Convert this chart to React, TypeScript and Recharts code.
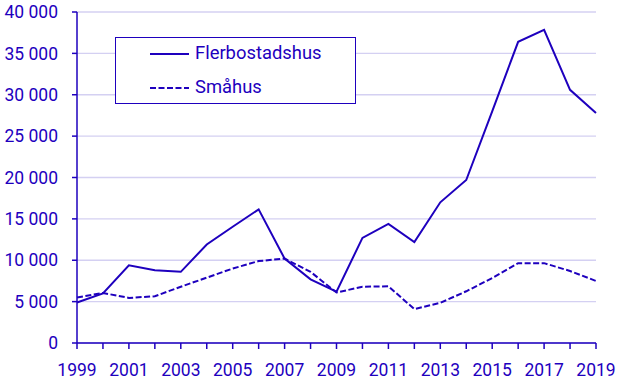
import React from 'react';
import { LineChart, Line, XAxis, YAxis, CartesianGrid } from 'recharts';

const years = [1999, 2000, 2001, 2002, 2003, 2004, 2005, 2006, 2007, 2008, 2009, 2010, 2011, 2012, 2013, 2014, 2015, 2016, 2017, 2018, 2019];
const flerbostadshus = [4900, 6000, 9400, 8800, 8600, 11900, 14050, 16150, 10200, 7700, 6200, 12700, 14400, 12200, 17000, 19700, 28000, 36400, 37850, 30600, 27800];
const smahus = [5500, 6050, 5450, 5650, 6800, 7900, 9000, 9900, 10200, 8600, 6100, 6800, 6850, 4100, 4850, 6250, 7850, 9650, 9650, 8700, 7500];
const yTicks = [0, 5000, 10000, 15000, 20000, 25000, 30000, 35000, 40000];
const seriesNames = ['Flerbostadshus', 'Småhus'];

const data = years.map((y, i) => ({ year: y, fler: flerbostadshus[i], sma: smahus[i] }));

const BLUE = '#1e00be';
const FONT = 'Roboto, sans-serif';
const DASH = '6 2.5';

const fmt = (v: number) => {
  if (v === 0) return '0';
  const s = String(v);
  return s.slice(0, s.length - 3) + '\u00a0' + s.slice(s.length - 3);
};

const LegendBox = () => (
  <div style={{ position: 'absolute', left: 115, top: 37, width: 241, height: 67, border: `1.3px solid ${BLUE}`, boxSizing: 'border-box', background: 'white' }}>
    <svg width={239} height={65} style={{ position: 'absolute', left: 0, top: 0 }}>
      <line x1={34} x2={73} y1={16} y2={16} stroke={BLUE} strokeWidth={2} />
      <text x={79} y={16} dy="0.27em" fill={BLUE} fontSize={18.4} fontFamily={FONT}>{seriesNames[0]}</text>
      <line x1={34} x2={73} y1={50} y2={50} stroke={BLUE} strokeWidth={2} strokeDasharray={DASH} />
      <text x={79} y={50} dy="0.27em" fill={BLUE} fontSize={18.4} fontFamily={FONT}>{seriesNames[1]}</text>
    </svg>
  </div>
);

export default function App() {
  return (
    <div style={{ position: 'absolute', left: 0, top: 0, width: 626, height: 382, background: 'white' }}>
      <LineChart width={626} height={382} data={data} margin={{ top: 12, right: 30, bottom: 0, left: 0 }}>
        <CartesianGrid vertical={false} stroke="#d4d0f2" strokeWidth={1.3} />
        <XAxis
          dataKey="year"
          type="number"
          domain={[1999, 2019]}
          ticks={years}
          interval={0}
          tickFormatter={(v: number) => (v % 2 === 1 ? String(v) : '')}
          stroke={BLUE}
          strokeWidth={1.5}
          tickSize={6}
          tickMargin={15}
          height={39}
          tick={{ fill: BLUE, fontSize: 17.5, fontFamily: FONT }}
        />
        <YAxis
          width={77}
          domain={[0, 40000]}
          ticks={yTicks}
          interval={0}
          tickFormatter={fmt}
          stroke={BLUE}
          strokeWidth={1.5}
          tickSize={5}
          tickMargin={14}
          tick={{ fill: BLUE, fontSize: 17.5, fontFamily: FONT }}
        />
        <Line dataKey="fler" name={seriesNames[0]} stroke={BLUE} strokeWidth={2} dot={false} isAnimationActive={false} />
        <Line dataKey="sma" name={seriesNames[1]} stroke={BLUE} strokeWidth={2} strokeDasharray={DASH} dot={false} isAnimationActive={false} />
      </LineChart>
      <LegendBox />
    </div>
  );
}
